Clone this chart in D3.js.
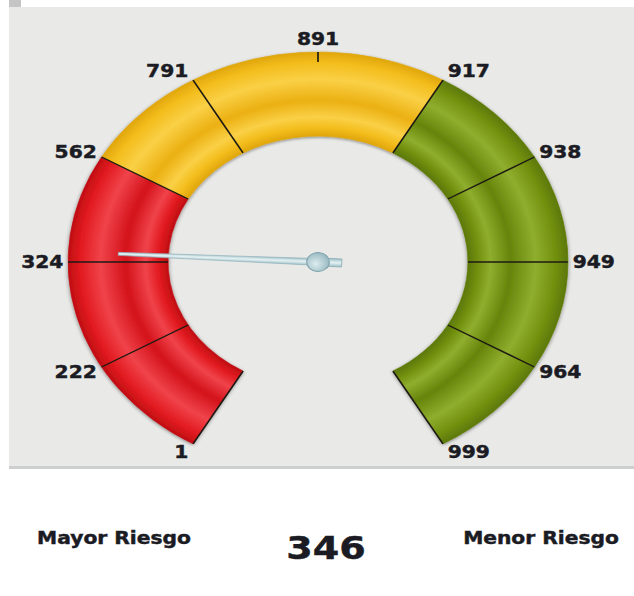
<!DOCTYPE html>
<html>
<head>
<meta charset="utf-8">
<script src="https://cdn.jsdelivr.net/npm/d3@7"></script>
<style>
  body { margin: 0; background: #fff; }
  text { font-family: "DejaVu Sans", Verdana, sans-serif; font-weight: bold; fill: #1b1b24; stroke: #1b1b24; stroke-width: 0.45px; }
</style>
</head>
<body>
<div id="chart"></div>
<script>
// gauge data
var tickValues = [1, 222, 324, 562, 791, 891, 917, 938, 949, 964, 999];
var shortTicks = [891];
var bandNames = ["alto", "medio", "bajo"];
var bandStart = [1, 562, 917];
var bandEnd = [562, 917, 999];
var score = 346;
var leftText = "Mayor Riesgo",
    rightText = "Menor Riesgo";

var width = 634, height = 596;
var cx = 318, cy = 262, sx = 1.19;
var outerR = 210, innerR = 126;

var svg = d3.select("#chart").append("svg")
    .attr("width", width)
    .attr("height", height);

var defs = svg.append("defs");

// tube look for each band
var bandStyles = {
    alto:  {dark: "#c00e12", base: "#e21b21", light: "#f0434a", mid: "#d3121a"},
    medio: {dark: "#e0a60c", base: "#f3bd1c", light: "#fad046", mid: "#ebb012"},
    bajo:  {dark: "#5c7806", base: "#72900e", light: "#8fae2e", mid: "#66840a"}
};

bandNames.forEach(function(n){
    var s = bandStyles[n];
    var g = defs.append("radialGradient")
        .attr("id", "grad-" + n)
        .attr("gradientUnits", "userSpaceOnUse")
        .attr("cx", 0).attr("cy", 0).attr("r", outerR);
    [[0.60, s.dark], [0.64, s.base], [0.69, s.light], [0.77, s.mid],
     [0.87, s.light], [0.95, s.base], [1.0, s.dark]].forEach(function(st){
        g.append("stop").attr("offset", st[0]).attr("stop-color", st[1]);
    });
});

var shadow = defs.append("filter").attr("id", "shadow")
    .attr("x", "-20%").attr("y", "-20%").attr("width", "140%").attr("height", "140%");
shadow.append("feDropShadow")
    .attr("dx", 0).attr("dy", 1).attr("stdDeviation", 1.6)
    .attr("flood-color", "#000").attr("flood-opacity", 0.45);

var needleGrad = defs.append("linearGradient").attr("id", "needle-grad")
    .attr("x1", 0).attr("y1", 0).attr("x2", 1).attr("y2", 0);
needleGrad.append("stop").attr("offset", 0).attr("stop-color", "#9fc0c8");
needleGrad.append("stop").attr("offset", 0.5).attr("stop-color", "#e4f1f3");
needleGrad.append("stop").attr("offset", 1).attr("stop-color", "#9fc0c8");

var hubGrad = defs.append("radialGradient").attr("id", "hub-grad")
    .attr("cx", 0.4).attr("cy", 0.4).attr("r", 0.7);
hubGrad.append("stop").attr("offset", 0).attr("stop-color", "#dcecef");
hubGrad.append("stop").attr("offset", 1).attr("stop-color", "#8eb2ba");

// panel
svg.append("rect")
    .attr("x", 9).attr("y", 0).attr("width", 12).attr("height", 7)
    .attr("fill", "#c4c5c4");
svg.append("rect")
    .attr("x", 9).attr("y", 7).attr("width", width - 9).attr("height", 459)
    .attr("fill", "#e9eae7");
svg.append("rect")
    .attr("x", 9).attr("y", 466).attr("width", width - 9).attr("height", 3)
    .attr("fill", "#cdcfce");

// angle scale: ticks are evenly spaced round the dial
var angleDeg = d3.scaleLinear()
    .domain(tickValues)
    .range(d3.range(-150, 151, 300 / (tickValues.length - 1)));
function rad(v){ return angleDeg(v) * Math.PI / 180; }

var gauge = svg.append("g")
    .attr("transform", "translate(" + cx + "," + cy + ") scale(" + sx + ",1)");

var arc = d3.arc()
    .innerRadius(innerR)
    .outerRadius(outerR);

gauge.append("g").attr("filter", "url(#shadow)")
    .selectAll("path")
    .data(bandNames)
    .enter().append("path")
    .attr("d", function(d, i){
        return arc({startAngle: rad(bandStart[i]), endAngle: rad(bandEnd[i])});
    })
    .attr("fill", function(d){ return "url(#grad-" + d + ")"; })
    .attr("stroke", function(d){ return bandStyles[d].dark; })
    .attr("stroke-width", 0.6);

// tick lines
gauge.append("g").selectAll("line")
    .data(tickValues)
    .enter().append("line")
    .attr("x1", function(d){ return Math.sin(rad(d)) * (shortTicks.indexOf(d) >= 0 ? outerR - 10 : innerR); })
    .attr("y1", function(d){ return -Math.cos(rad(d)) * (shortTicks.indexOf(d) >= 0 ? outerR - 10 : innerR); })
    .attr("x2", function(d){ return Math.sin(rad(d)) * outerR; })
    .attr("y2", function(d){ return -Math.cos(rad(d)) * outerR; })
    .attr("stroke", "#1e1a14")
    .attr("stroke-width", 1.4);

// tick labels
gauge.append("g").selectAll("text")
    .data(tickValues)
    .enter().append("text")
    .attr("font-size", 17)
    .attr("dominant-baseline", "central")
    .attr("text-anchor", function(d){
        var s = Math.sin(rad(d));
        return Math.abs(s) < 0.1 ? "middle" : (s < 0 ? "end" : "start");
    })
    .attr("x", function(d){
        var s = Math.sin(rad(d));
        if (Math.abs(s) < 0.1) return 0;
        return s * outerR + (s < 0 ? -4 : 4);
    })
    .attr("y", function(d){
        var s = Math.sin(rad(d)), c = Math.cos(rad(d));
        if (Math.abs(s) < 0.1) return -outerR - 13;
        return -c * outerR - 10 * c;
    })
    .text(function(d){ return d; });

// needle
var needle = gauge.append("g")
    .attr("transform", "rotate(" + angleDeg(score) + ")");
needle.append("rect")
    .attr("x", -4).attr("y", 0).attr("width", 8).attr("height", 20)
    .attr("fill", "url(#needle-grad)")
    .attr("stroke", "#8fb0b8").attr("stroke-width", 0.8);
needle.append("path")
    .attr("d", "M-3.4,0 L-1.5,-168 L1.5,-168 L3.4,0 Z")
    .attr("fill", "url(#needle-grad)")
    .attr("stroke", "#8fb0b8").attr("stroke-width", 0.6);
needle.append("circle")
    .attr("r", 9.5)
    .attr("fill", "url(#hub-grad)")
    .attr("stroke", "#7fa2ab").attr("stroke-width", 0.9);

// bottom texts
var bottom = svg.append("g");
bottom.append("text")
    .attr("transform", "translate(114,538) scale(" + sx + ",1)")
    .attr("text-anchor", "middle").attr("dominant-baseline", "central")
    .attr("font-size", 17)
    .text(leftText);
bottom.append("text")
    .attr("transform", "translate(541,538) scale(" + sx + ",1)")
    .attr("text-anchor", "middle").attr("dominant-baseline", "central")
    .attr("font-size", 17)
    .text(rightText);
bottom.append("text")
    .attr("transform", "translate(326,548) scale(" + sx + ",1)")
    .attr("text-anchor", "middle").attr("dominant-baseline", "central")
    .attr("font-size", 32)
    .text(score);
</script>
</body>
</html>
